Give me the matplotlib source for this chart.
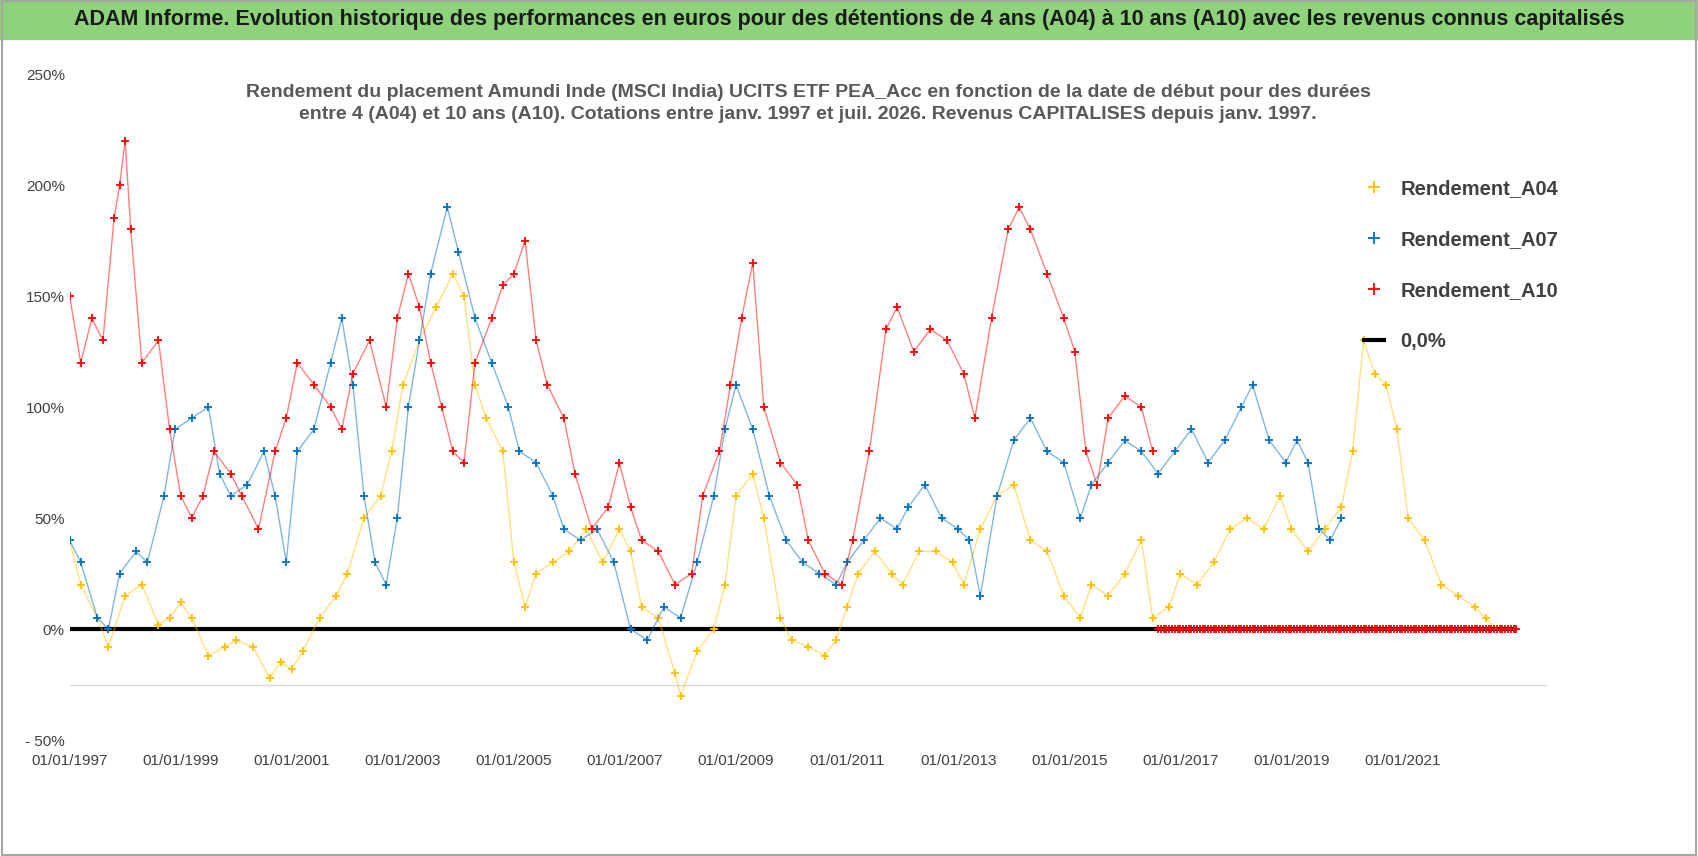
import matplotlib.pyplot as plt
import numpy as np

# rendements (annee decimale, %)
a04 = [(1997.0, 40), (1997.2, 20), (1997.5, 5), (1997.7, -8), (1998.0, 15), (1998.3, 20), (1998.6, 2),
       (1998.8, 5), (1999.0, 12), (1999.2, 5), (1999.5, -12), (1999.8, -8), (2000.0, -5), (2000.3, -8),
       (2000.6, -22), (2000.8, -15), (2001.0, -18), (2001.2, -10), (2001.5, 5), (2001.8, 15), (2002.0, 25),
       (2002.3, 50), (2002.6, 60), (2002.8, 80), (2003.0, 110), (2003.3, 130), (2003.6, 145), (2003.9, 160),
       (2004.1, 150), (2004.3, 110), (2004.5, 95), (2004.8, 80), (2005.0, 30), (2005.2, 10), (2005.4, 25),
       (2005.7, 30), (2006.0, 35), (2006.3, 45), (2006.6, 30), (2006.9, 45), (2007.1, 35), (2007.3, 10),
       (2007.6, 5), (2007.9, -20), (2008.0, -30), (2008.3, -10), (2008.6, 0), (2008.8, 20), (2009.0, 60),
       (2009.3, 70), (2009.5, 50), (2009.8, 5), (2010.0, -5), (2010.3, -8), (2010.6, -12), (2010.8, -5),
       (2011.0, 10), (2011.2, 25), (2011.5, 35), (2011.8, 25), (2012.0, 20), (2012.3, 35), (2012.6, 35),
       (2012.9, 30), (2013.1, 20), (2013.4, 45), (2013.7, 60), (2014.0, 65), (2014.3, 40), (2014.6, 35),
       (2014.9, 15), (2015.2, 5), (2015.4, 20), (2015.7, 15), (2016.0, 25), (2016.3, 40), (2016.5, 5),
       (2016.8, 10), (2017.0, 25), (2017.3, 20), (2017.6, 30), (2017.9, 45), (2018.2, 50), (2018.5, 45),
       (2018.8, 60), (2019.0, 45), (2019.3, 35), (2019.6, 45), (2019.9, 55), (2020.1, 80), (2020.3, 130),
       (2020.5, 115), (2020.7, 110), (2020.9, 90), (2021.1, 50), (2021.4, 40), (2021.7, 20), (2022.0, 15),
       (2022.3, 10), (2022.5, 5), (2022.7, 0), (2022.9, 0), (2023.0, 0)]

a07 = [(1997.0, 40), (1997.2, 30), (1997.5, 5), (1997.7, 0), (1997.9, 25), (1998.2, 35), (1998.4, 30),
       (1998.7, 60), (1998.9, 90), (1999.2, 95), (1999.5, 100), (1999.7, 70), (1999.9, 60), (2000.2, 65),
       (2000.5, 80), (2000.7, 60), (2000.9, 30), (2001.1, 80), (2001.4, 90), (2001.7, 120), (2001.9, 140),
       (2002.1, 110), (2002.3, 60), (2002.5, 30), (2002.7, 20), (2002.9, 50), (2003.1, 100), (2003.3, 130),
       (2003.5, 160), (2003.8, 190), (2004.0, 170), (2004.3, 140), (2004.6, 120), (2004.9, 100), (2005.1, 80),
       (2005.4, 75), (2005.7, 60), (2005.9, 45), (2006.2, 40), (2006.5, 45), (2006.8, 30), (2007.1, 0),
       (2007.4, -5), (2007.7, 10), (2008.0, 5), (2008.3, 30), (2008.6, 60), (2008.8, 90), (2009.0, 110),
       (2009.3, 90), (2009.6, 60), (2009.9, 40), (2010.2, 30), (2010.5, 25), (2010.8, 20), (2011.0, 30),
       (2011.3, 40), (2011.6, 50), (2011.9, 45), (2012.1, 55), (2012.4, 65), (2012.7, 50), (2013.0, 45),
       (2013.2, 40), (2013.4, 15), (2013.7, 60), (2014.0, 85), (2014.3, 95), (2014.6, 80), (2014.9, 75),
       (2015.2, 50), (2015.4, 65), (2015.7, 75), (2016.0, 85), (2016.3, 80), (2016.6, 70), (2016.9, 80),
       (2017.2, 90), (2017.5, 75), (2017.8, 85), (2018.1, 100), (2018.3, 110), (2018.6, 85), (2018.9, 75),
       (2019.1, 85), (2019.3, 75), (2019.5, 45), (2019.7, 40), (2019.9, 50)]

a10 = [(1997.0, 150), (1997.2, 120), (1997.4, 140), (1997.6, 130), (1997.8, 185), (1997.9, 200), (1998.0, 220),
       (1998.1, 180), (1998.3, 120), (1998.6, 130), (1998.8, 90), (1999.0, 60), (1999.2, 50), (1999.4, 60),
       (1999.6, 80), (1999.9, 70), (2000.1, 60), (2000.4, 45), (2000.7, 80), (2000.9, 95), (2001.1, 120),
       (2001.4, 110), (2001.7, 100), (2001.9, 90), (2002.1, 115), (2002.4, 130), (2002.7, 100), (2002.9, 140),
       (2003.1, 160), (2003.3, 145), (2003.5, 120), (2003.7, 100), (2003.9, 80), (2004.1, 75), (2004.3, 120),
       (2004.6, 140), (2004.8, 155), (2005.0, 160), (2005.2, 175), (2005.4, 130), (2005.6, 110), (2005.9, 95),
       (2006.1, 70), (2006.4, 45), (2006.7, 55), (2006.9, 75), (2007.1, 55), (2007.3, 40), (2007.6, 35),
       (2007.9, 20), (2008.2, 25), (2008.4, 60), (2008.7, 80), (2008.9, 110), (2009.1, 140), (2009.3, 165),
       (2009.5, 100), (2009.8, 75), (2010.1, 65), (2010.3, 40), (2010.6, 25), (2010.9, 20), (2011.1, 40),
       (2011.4, 80), (2011.7, 135), (2011.9, 145), (2012.2, 125), (2012.5, 135), (2012.8, 130), (2013.1, 115),
       (2013.3, 95), (2013.6, 140), (2013.9, 180), (2014.1, 190), (2014.3, 180), (2014.6, 160), (2014.9, 140),
       (2015.1, 125), (2015.3, 80), (2015.5, 65), (2015.7, 95), (2016.0, 105), (2016.3, 100), (2016.5, 80)]
# apres juil. 2016 : pas encore 10 ans de recul, rendement a 0
a10_zero = np.arange(2016.6, 2023.05, 0.05)

FONT = 'Liberation Sans'

fig = plt.figure(figsize=(16.98, 8.56), dpi=100)
fig.patches.append(plt.Rectangle((0, 0.955), 1, 0.045, transform=fig.transFigure,
                                 color='#8fd27c', zorder=0))
fig.text(0.5, 0.977, "ADAM Informe. Evolution historique des performances en euros pour des détentions de 4 ans (A04) "
         "à 10 ans (A10) avec les revenus connus capitalisés",
         ha='center', va='center', fontsize=15.5, fontweight='bold', color='#1a1a1a', family=FONT)

ax = fig.add_axes([0.041, 0.1355, 0.87, 0.778])
for data, col, lab in [(a04, '#ffc000', 'Rendement_A04'), (a07, '#0070c0', 'Rendement_A07'),
                       (a10, '#ff0000', 'Rendement_A10')]:
    x, y = zip(*data)
    ax.plot(x, y, color=col, lw=1, alpha=0.5)
    ax.plot(x, y, '+', color=col, ms=6, mew=1.3, label=lab)
ax.plot(a10_zero, np.zeros(len(a10_zero)), '+', color='#ff0000', ms=6, mew=1.3)
ax.plot([1997, 2023], [0, 0], color='black', lw=3, label='0,0%', zorder=1)

ax.set_xlim(1997, 2023.6)
ax.set_ylim(-50, 250)
ax.set_yticks(range(-50, 251, 50))
ax.set_yticklabels(['- 50%' if v < 0 else f'{v}%' for v in range(-50, 251, 50)], family=FONT)
ax.set_xticks(range(1997, 2022, 2))
ax.set_xticklabels([f'01/01/{y}' for y in range(1997, 2022, 2)], family=FONT)
ax.axhline(-25, color='#d9d9d9', lw=1, zorder=0)
ax.tick_params(labelsize=11, colors='#404040', length=0)
ax.tick_params(axis='x', pad=10)
for s in ax.spines.values():
    s.set_visible(False)

ax.text(0.5, 0.985, "Rendement du placement Amundi Inde (MSCI India) UCITS ETF PEA_Acc en fonction de la date de début pour des durées\n"
        "entre 4 (A04) et 10 ans (A10). Cotations entre janv. 1997 et juil. 2026. Revenus CAPITALISES depuis janv. 1997.",
        transform=ax.transAxes, ha='center', va='top', fontsize=14, color='#595959',
        fontweight='bold', family=FONT, linespacing=1.4)

leg = ax.legend(loc='upper right', bbox_to_anchor=(1.02, 0.87), frameon=False,
                prop={'family': FONT, 'size': 14.5, 'weight': 'bold'},
                labelspacing=1.6, handlelength=1.0, markerscale=1.5)
for t in leg.get_texts():
    t.set_color('#404040')

fig.patches.append(plt.Rectangle((0.001, 0.001), 0.998, 0.998, transform=fig.transFigure,
                                 fill=False, ec='#a6a6a6', lw=1.5))
fig.savefig('out.png', dpi=100)
